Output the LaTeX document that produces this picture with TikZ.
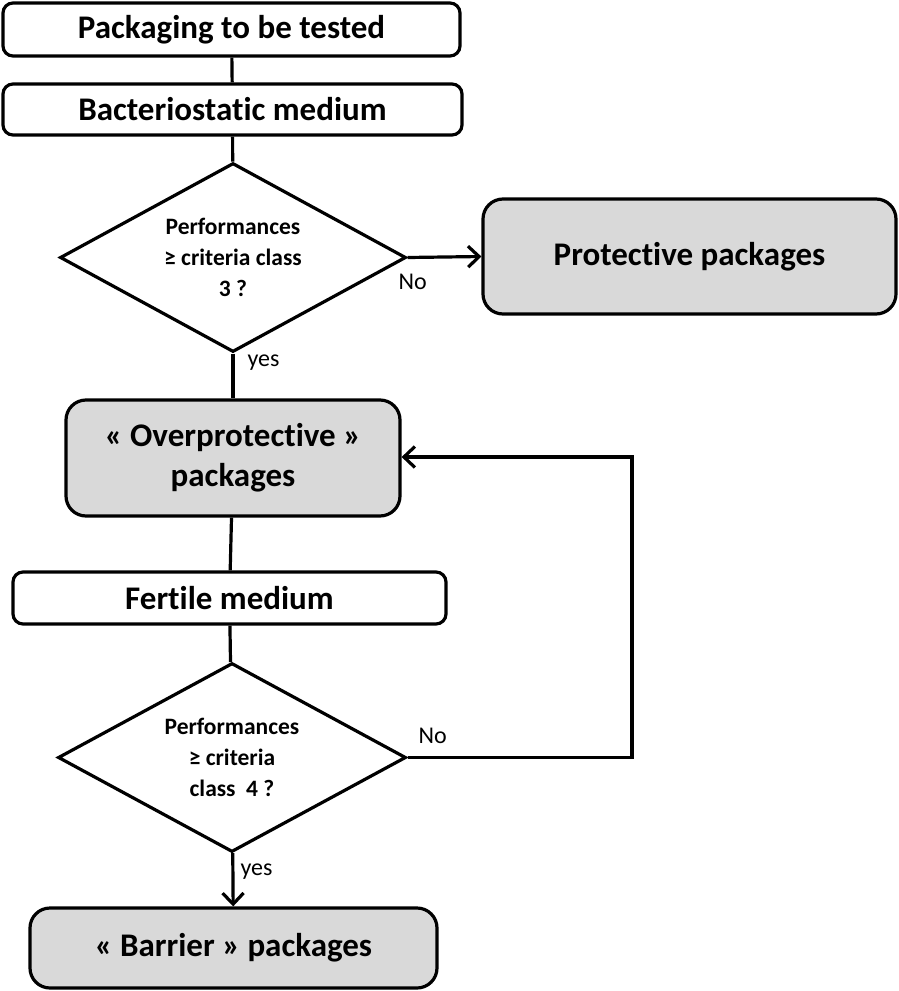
\documentclass[tikz,border=0pt]{standalone}
\usepackage{fontspec}
\setmainfont[Ligatures=NoCommon]{Carlito}
\usetikzlibrary{shapes.geometric,arrows.meta}
\definecolor{boxgray}{HTML}{D9D9D9}
\begin{document}
\begin{tikzpicture}[x=1pt,y=-1pt,
  line width=3.2pt,
  box/.style={draw,rounded corners=10pt,fill=white,inner sep=0pt,align=center,
    font=\bfseries\fontsize{33}{40}\selectfont},
  gbox/.style={box,fill=boxgray,rounded corners=20pt},
  decision/.style={draw,diamond,fill=white,inner sep=0pt},
  dtext/.style={inner sep=0pt,align=center,font=\bfseries\fontsize{23.5}{31}\selectfont},
  lbl/.style={inner sep=0pt,font=\fontsize{24}{28}\selectfont},
  conn/.style={draw,line width=3.2pt},
  arr/.style={conn,-{Straight Barb[length=11pt,width=21pt]}}
]
\useasboundingbox (0,0) rectangle (898,991);
\node[box,minimum width=457pt,minimum height=53pt] (b1) at (231.5,29.5) {Packaging to be tested};
\node[box,minimum width=459pt,minimum height=51pt] (b2) at (232.5,109.5) {Bacteriostatic medium};
\node[decision,minimum width=346pt,minimum height=189pt] (d1) at (233,257.5) {};
\node[dtext] (t1) at (d1.center) {Performances\\≥ criteria class\\3 ?};
\node[gbox,minimum width=413pt,minimum height=115pt] (prot) at (689.5,256.5) {Protective packages};
\node[gbox,minimum width=334pt,minimum height=116pt] (over) at (233,458) {« Overprotective »\\packages};
\node[box,minimum width=433pt,minimum height=52pt] (fert) at (229.5,598) {Fertile medium};
\node[decision,minimum width=348pt,minimum height=189pt] (d2) at (232,757.5) {};
\node[dtext] (t2) at (d2.center) {Performances\\≥ criteria\\class~ 4 ?};
\node[gbox,minimum width=407pt,minimum height=80pt] (bar) at (233.5,948) {« Barrier » packages};
\coordinate (loop) at (632,457);
\node[lbl,anchor=west] (no1) at (397,282) {No};
\node[lbl,anchor=west] (yes1) at (246,363) {yes};
\node[lbl,anchor=west] (no2) at (417,736) {No};
\node[lbl,anchor=west] (yes2) at (239,872) {yes};
\draw[conn] (b1) -- (b2);
\draw[conn] (b2) -- (d1);
\draw[arr] (d1.east) -- (prot.west);
\draw[conn] (d1) -- (over);
\draw[conn] (over) -- (fert);
\draw[conn] (fert) -- (d2);
\draw[arr] (d2.east) -| (loop) -- (loop -| over.east);
\draw[arr] (d2) -- (bar);
\end{tikzpicture}
\end{document}
